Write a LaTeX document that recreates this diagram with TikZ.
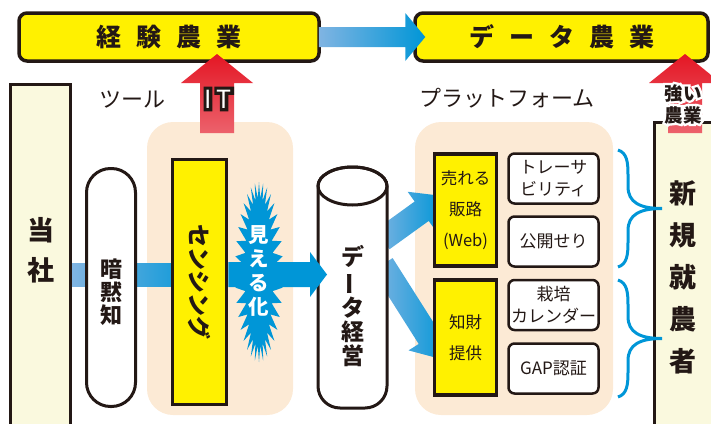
\documentclass[tikz,border=0pt]{standalone}
\usepackage{fontspec}
\setmainfont{Noto Sans CJK JP}
\newfontfamily\fuchifont[FakeBold=25,BoldFeatures={FakeBold=25}]{Noto Sans CJK JP}
\usetikzlibrary{calc}
\definecolor{kiiro}{RGB}{255,241,0}
\definecolor{usuki}{RGB}{250,249,222}
\definecolor{hada}{RGB}{252,234,213}
\definecolor{ao}{RGB}{0,150,215}
\definecolor{usuao}{RGB}{128,180,226}
\definecolor{aka}{RGB}{228,22,36}
\definecolor{momo}{RGB}{236,98,108}
\definecolor{sumi}{RGB}{35,24,21}
\newcommand\aki{\hspace{15pt}}
\pgfdeclarelayer{haikei}
\pgfdeclarelayer{naka}
\pgfsetlayers{haikei,naka,main}
\tikzset{
  futi/.style={draw=sumi,line width=3pt},
  midasi/.style={futi,line width=3.5pt,fill=kiiro,rounded corners=8pt,minimum height=48pt,text=sumi,font=\bfseries\fontsize{25}{25}\selectfont},
  hasira/.style={futi,fill=usuki,minimum width=60pt},
  tate/.style 2 args={text=sumi,align=center,inner sep=0pt,font=\bfseries\fontsize{#1}{#2}\selectfont},
  kibako/.style={futi,line width=3.5pt,fill=kiiro,text=sumi,align=center,minimum width=62pt,font=\fontsize{16.5}{31}\selectfont},
  sirobako/.style={futi,line width=2.5pt,fill=white,rounded corners=6pt,minimum width=90pt,minimum height=50pt,text=sumi,align=center,inner sep=0pt,font=\fontsize{17}{22}\selectfont},
  nami/.style={text=sumi,font=\fontsize{22}{22}\selectfont},
}

\begin{document}
\begin{tikzpicture}[x=1pt,y=-1pt]
\useasboundingbox (0,0) rectangle (711,423);
\clip (0,0) rectangle (711,423);
\begin{pgfonlayer}{haikei}
\fill[hada,rounded corners=26pt] (147,122) rectangle (293,415);
%ツール的底色(hada),圆角(rounded corners)
\fill[hada,rounded corners=26pt] (415,122) rectangle (613,415);
%プラットフォーム的底色
\end{pgfonlayer}
\node[hasira,minimum height=357pt] (tousha) at (40.5,263) {};
\node[tate={27}{40}] (toushamoji) at (40.5,250) {当\\社};
%左侧的柱子(hasira)和文字
\node[hasira,minimum width=66pt,minimum height=317pt] (shinki) at (687,281) {};
\node[tate={27}{42}] (shinkimoji) at (683,277) {新\\規\\就\\農\\者};
%右侧的柱子,超出画面的部分被裁掉(clip)
\node[futi,fill=white,rounded corners=24pt,minimum width=49pt,minimum height=238pt] (anmoku) at (111,287.5) {};
\node[tate={22}{23}] (anmokumoji) at (111,292.5) {暗\\黙\\知};
%圆头的白柱子
\node[futi,line width=3.5pt,fill=kiiro,minimum width=54pt,minimum height=245pt,text=sumi,font=\bfseries\fontsize{23}{23}\selectfont] (sensing) at (199.5,282) {\rotatebox{-90}{センシング}};
%黄色竖框,文字旋转(rotatebox)-90度
\node[kibako,minimum height=112pt] (ureru) at (465.5,210) {売れる\\販路\\(Web)};
\node[kibako,minimum height=115pt] (chizai) at (465.5,337.5) {知財\\提供};
\node[sirobako] (trace) at (553.5,178.5) {トレーサ\\ビリティ};
\node[sirobako] (seri) at (553.5,241.5) {公開せり};
\node[sirobako] (calendar) at (553.5,305) {栽培\\カレンダー};
\node[sirobako] (gap) at (553.5,368.5) {GAP認証};
%プラットフォーム里的框(kibako:黄,sirobako:白)
\node[minimum width=69pt,minimum height=243pt,inner sep=0pt,outer sep=0pt] (keiei) at (352.5,286.5) {};
%圆柱的外框,只用来取锚点(anchor)
\coordinate (ya) at (0,274.5);
\coordinate (bunki1) at ($(keiei)+(30,-47)$);
\coordinate (bunki2) at ($(keiei)+(30,-22)$);
\coordinate (saki1) at ($(ureru.west)+(10,-14)$);
\coordinate (saki2) at ($(chizai.west)+(10,22)$);
%箭头的起点(bunki)和终点(saki)
\begin{pgfonlayer}{naka}
\shade[left color=usuao,right color=ao!75!usuao] ($(tousha.east |- ya)+(0,-11.5)$) rectangle ($(sensing.west |- ya)+(0,11.5)$);
%从当社到センシング的浅蓝带子,从暗黙知后面穿过
\foreach \moto/\saki in {bunki1/saki1,bunki2/saki2}
  {\coordinate (ne) at ($(\saki)!26pt!(\moto)$);
   \shade[left color=usuao,right color=ao] ($(\moto)!12pt!90:(\saki)$) -- ($(ne)!12pt!-90:(\moto)$) -- ($(ne)!24pt!-90:(\moto)$) -- (\saki) -- ($(ne)!24pt!90:(\moto)$) -- ($(ne)!12pt!90:(\moto)$) -- ($(\moto)!12pt!-90:(\saki)$) -- cycle;}
%从データ経営分出去的两支粗箭头,箭头尖藏在黄框后面
\fill[ao] (283,272) \foreach \i in {1,...,71} {-- ({259+(24-10*mod(\i,2))*cos(5*\i)},{272+(90-16*mod(\i,2))*sin(5*\i)})} -- cycle;
%見える化的爆炸形,内外半径交替(mod)
\end{pgfonlayer}
\filldraw[futi,fill=white] (318,186) -- (318,386) arc[start angle=180,end angle=90,radius=22] -- (365,408) arc[start angle=90,end angle=0,radius=22] -- (387,186) arc[start angle=0,end angle=-180,x radius=34.5,y radius=19] -- cycle;
\draw[futi] (352.5,186) ellipse[x radius=34.5,y radius=19];
\node[tate={23}{24}] (keieimoji) at (352.5,306) {デ\\\rotatebox[origin=c]{90}{ー}\\タ\\経\\営};
%データ経営的圆柱
\fill[ao] ($(sensing.east |- ya)+(0,-12.5)$) -- ($(keiei.west |- ya)+(-8,-12.5)$) -- ++(0,-10) -- ($(keiei.west |- ya)+(9,0)$) -- ($(keiei.west |- ya)+(-8,22.5)$) -- ++(0,-10) -- ($(sensing.east |- ya)+(0,12.5)$) -- cycle;
%センシング到データ経営的箭头
\node[tate={20.5}{24},text=white] (mieru) at (259,271) {見\\え\\る\\化};
\foreach \ya/\yb in {150/267,280/397}
  {\pgfmathsetmacro\ym{(\ya+\yb)/2}
   \draw[line width=3pt,ao] (618,\ya) .. controls (627,\ya+3) and (628,\ya+12) .. (628,\ya+25) -- (628,\ym-22) .. controls (628,\ym-6) and (640,\ym) .. (662,\ym) .. controls (640,\ym) and (628,\ym+6) .. (628,\ym+22) -- (628,\yb-25) .. controls (628,\yb-12) and (627,\yb-3) .. (618,\yb);}
%两个大括号
\node[midasi,minimum width=300pt] (keiken) at (169,37) {経\aki 験\aki 農\aki 業};
\node[midasi,minimum width=293pt] (data) at (561.5,37) {デ\aki ー\aki タ\aki 農\aki 業};
%上面的两个黄框
\shade[left color=usuao,right color=ao] ($(keiken.east)+(-2,-10)$) -- ($(data.west)+(-8,-10)$) -- ($(data.west)+(-8,-24)$) -- ($(data.west)+(12,0)$) -- ($(data.west)+(-8,24)$) -- ($(data.west)+(-8,10)$) -- ($(keiken.east)+(-2,10)$) -- cycle;
%経験農業到データ農業的箭头
\foreach \ax in {217,685}
  {\shade[top color=aka,bottom color=momo] (\ax-17,133) -- (\ax-17,83) -- (\ax-36,83) -- (\ax,54) -- (\ax+36,83) -- (\ax+17,83) -- (\ax+17,133) -- cycle;}
%两支向上的红箭头
\node[text=sumi,font=\fuchifont\fontsize{25}{25}\selectfont] (it) at (218,99) {I\hspace{5pt}T};
\node[text=white,font=\fontsize{25}{25}\selectfont] at (it) {I\hspace{5pt}T};
%IT,先用加粗(fuchifont)的深色字垫底,再写白字
\node[text=white,align=center,font=\fuchifont\bfseries\fontsize{18.5}{22}\selectfont] (tsuyoi) at (683,104) {強い\\農業};
\node[text=sumi,align=center,font=\bfseries\fontsize{18.5}{22}\selectfont] at (tsuyoi) {強い\\農業};
%強い農業,白色垫底
\node[nami] (tool) at (132,100) {ツール};
\node[nami] (platform) at (507,98) {プラットフォーム};
\end{tikzpicture}
\end{document}
